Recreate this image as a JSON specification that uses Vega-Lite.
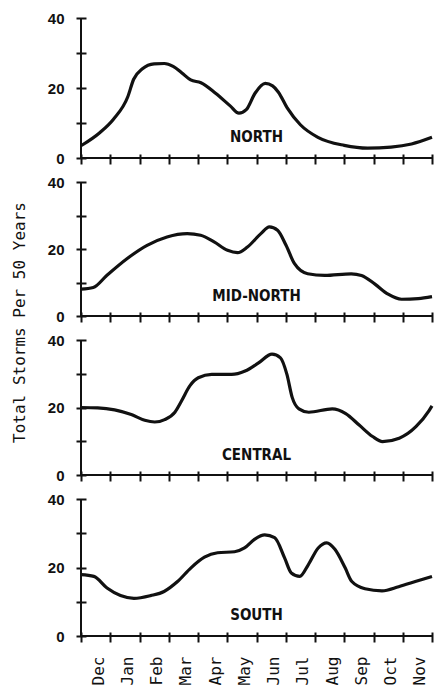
{
  "$schema": "https://vega.github.io/schema/vega-lite/v6.json",
  "padding": {"left": 11, "top": 11, "right": 3, "bottom": 0},
  "background": "white",
  "config": {
    "view": {"stroke": null},
    "axis": {"grid": false, "domain": false, "tickColor": "#111", "tickWidth": 2, "labelColor": "#111", "titleColor": "#111", "labelOverlap": false, "labelFlush": false},
    "text": {"font": "'Liberation Sans Narrow', 'DejaVu Sans Condensed', 'Roboto Condensed', Roboto, sans-serif", "fontWeight": "bold", "fontSize": 15, "color": "#111"}
  },
  "datasets": {
    "storms": [
      {"region": "NORTH", "month": 0, "storms": 3.5},
      {"region": "NORTH", "month": 0.65, "storms": 7.3},
      {"region": "NORTH", "month": 1.11, "storms": 11.1},
      {"region": "NORTH", "month": 1.6, "storms": 17.5},
      {"region": "NORTH", "month": 1.8, "storms": 22.5},
      {"region": "NORTH", "month": 2.1, "storms": 25.5},
      {"region": "NORTH", "month": 2.5, "storms": 26.9},
      {"region": "NORTH", "month": 2.85, "storms": 27.0},
      {"region": "NORTH", "month": 3.15, "storms": 26.2},
      {"region": "NORTH", "month": 3.45, "storms": 24.3},
      {"region": "NORTH", "month": 3.75, "storms": 22.3},
      {"region": "NORTH", "month": 4.1, "storms": 21.5},
      {"region": "NORTH", "month": 4.6, "storms": 18.5},
      {"region": "NORTH", "month": 5.1, "storms": 14.9},
      {"region": "NORTH", "month": 5.4, "storms": 12.8},
      {"region": "NORTH", "month": 5.65, "storms": 13.8},
      {"region": "NORTH", "month": 5.95, "storms": 18.5},
      {"region": "NORTH", "month": 6.3, "storms": 21.3},
      {"region": "NORTH", "month": 6.55, "storms": 20.6},
      {"region": "NORTH", "month": 6.75, "storms": 18.8},
      {"region": "NORTH", "month": 7.05, "storms": 14.3},
      {"region": "NORTH", "month": 7.5, "storms": 9.5},
      {"region": "NORTH", "month": 8.1, "storms": 5.9},
      {"region": "NORTH", "month": 9.0, "storms": 3.6},
      {"region": "NORTH", "month": 9.8, "storms": 2.8},
      {"region": "NORTH", "month": 10.6, "storms": 3.1},
      {"region": "NORTH", "month": 11.3, "storms": 4.0},
      {"region": "NORTH", "month": 12, "storms": 5.9},

      {"region": "MID-NORTH", "month": 0, "storms": 8.0},
      {"region": "MID-NORTH", "month": 0.42, "storms": 8.5},
      {"region": "MID-NORTH", "month": 0.88, "storms": 12.1},
      {"region": "MID-NORTH", "month": 1.57, "storms": 17.1},
      {"region": "MID-NORTH", "month": 2.26, "storms": 21.1},
      {"region": "MID-NORTH", "month": 2.94, "storms": 23.6},
      {"region": "MID-NORTH", "month": 3.63, "storms": 24.6},
      {"region": "MID-NORTH", "month": 4.09, "storms": 24.1},
      {"region": "MID-NORTH", "month": 4.55, "storms": 22.1},
      {"region": "MID-NORTH", "month": 5.01, "storms": 19.6},
      {"region": "MID-NORTH", "month": 5.35, "storms": 18.9},
      {"region": "MID-NORTH", "month": 5.69, "storms": 20.6},
      {"region": "MID-NORTH", "month": 6.15, "storms": 24.6},
      {"region": "MID-NORTH", "month": 6.44, "storms": 26.6},
      {"region": "MID-NORTH", "month": 6.72, "storms": 25.6},
      {"region": "MID-NORTH", "month": 7.01, "storms": 21.1},
      {"region": "MID-NORTH", "month": 7.3, "storms": 15.6},
      {"region": "MID-NORTH", "month": 7.75, "storms": 12.6},
      {"region": "MID-NORTH", "month": 8.33, "storms": 12.1},
      {"region": "MID-NORTH", "month": 9.24, "storms": 12.6},
      {"region": "MID-NORTH", "month": 9.59, "storms": 12.1},
      {"region": "MID-NORTH", "month": 10.05, "storms": 9.5},
      {"region": "MID-NORTH", "month": 10.5, "storms": 6.5},
      {"region": "MID-NORTH", "month": 10.96, "storms": 5.0},
      {"region": "MID-NORTH", "month": 11.53, "storms": 5.2},
      {"region": "MID-NORTH", "month": 12, "storms": 5.8},

      {"region": "CENTRAL", "month": 0, "storms": 20.0},
      {"region": "CENTRAL", "month": 0.57, "storms": 19.9},
      {"region": "CENTRAL", "month": 1.15, "storms": 19.3},
      {"region": "CENTRAL", "month": 1.72, "storms": 17.9},
      {"region": "CENTRAL", "month": 2.18, "storms": 16.2},
      {"region": "CENTRAL", "month": 2.52, "storms": 15.7},
      {"region": "CENTRAL", "month": 2.86, "storms": 16.4},
      {"region": "CENTRAL", "month": 3.21, "storms": 18.6},
      {"region": "CENTRAL", "month": 3.44, "storms": 22.0},
      {"region": "CENTRAL", "month": 3.72, "storms": 26.4},
      {"region": "CENTRAL", "month": 4.01, "storms": 28.8},
      {"region": "CENTRAL", "month": 4.47, "storms": 29.8},
      {"region": "CENTRAL", "month": 5.15, "storms": 29.8},
      {"region": "CENTRAL", "month": 5.61, "storms": 30.8},
      {"region": "CENTRAL", "month": 6.07, "storms": 33.2},
      {"region": "CENTRAL", "month": 6.53, "storms": 35.8},
      {"region": "CENTRAL", "month": 6.82, "storms": 34.7},
      {"region": "CENTRAL", "month": 7.04, "storms": 29.8},
      {"region": "CENTRAL", "month": 7.22, "storms": 23.0},
      {"region": "CENTRAL", "month": 7.45, "storms": 19.6},
      {"region": "CENTRAL", "month": 7.79, "storms": 18.6},
      {"region": "CENTRAL", "month": 8.59, "storms": 19.6},
      {"region": "CENTRAL", "month": 9.05, "storms": 18.2},
      {"region": "CENTRAL", "month": 9.51, "storms": 14.8},
      {"region": "CENTRAL", "month": 9.97, "storms": 11.4},
      {"region": "CENTRAL", "month": 10.31, "storms": 9.9},
      {"region": "CENTRAL", "month": 10.88, "storms": 10.9},
      {"region": "CENTRAL", "month": 11.45, "storms": 14.3},
      {"region": "CENTRAL", "month": 11.9, "storms": 19.1},
      {"region": "CENTRAL", "month": 12, "storms": 20.5},

      {"region": "SOUTH", "month": 0, "storms": 17.9},
      {"region": "SOUTH", "month": 0.44, "storms": 17.4},
      {"region": "SOUTH", "month": 0.89, "storms": 14.0},
      {"region": "SOUTH", "month": 1.35, "storms": 11.8},
      {"region": "SOUTH", "month": 1.81, "storms": 11.0},
      {"region": "SOUTH", "month": 2.38, "storms": 11.8},
      {"region": "SOUTH", "month": 2.84, "storms": 13.0},
      {"region": "SOUTH", "month": 3.3, "storms": 15.9},
      {"region": "SOUTH", "month": 3.76, "storms": 19.9},
      {"region": "SOUTH", "month": 4.22, "storms": 23.0},
      {"region": "SOUTH", "month": 4.67, "storms": 24.3},
      {"region": "SOUTH", "month": 5.25, "storms": 24.6},
      {"region": "SOUTH", "month": 5.59, "storms": 25.7},
      {"region": "SOUTH", "month": 5.93, "storms": 28.2},
      {"region": "SOUTH", "month": 6.28, "storms": 29.5},
      {"region": "SOUTH", "month": 6.62, "storms": 28.7},
      {"region": "SOUTH", "month": 6.96, "storms": 22.8},
      {"region": "SOUTH", "month": 7.19, "storms": 18.4},
      {"region": "SOUTH", "month": 7.48, "storms": 17.4},
      {"region": "SOUTH", "month": 7.77, "storms": 20.8},
      {"region": "SOUTH", "month": 8.11, "storms": 25.7},
      {"region": "SOUTH", "month": 8.4, "storms": 27.2},
      {"region": "SOUTH", "month": 8.68, "storms": 25.3},
      {"region": "SOUTH", "month": 9.03, "storms": 19.9},
      {"region": "SOUTH", "month": 9.26, "storms": 15.9},
      {"region": "SOUTH", "month": 9.71, "storms": 13.8},
      {"region": "SOUTH", "month": 10.29, "storms": 13.2},
      {"region": "SOUTH", "month": 10.86, "storms": 14.4},
      {"region": "SOUTH", "month": 11.43, "storms": 15.9},
      {"region": "SOUTH", "month": 12, "storms": 17.4}
    ]
  },
  "bounds": "flush",
  "spacing": 24,
  "vconcat": [
    {
      "width": 351, "height": 140,
      "layer": [
        {
          "data": {"name": "storms"},
          "transform": [{"filter": "datum.region == 'NORTH'"}],
          "mark": {"type": "line", "interpolate": "monotone", "color": "#111", "strokeWidth": 3.2},
          "encoding": {
            "x": {"field": "month", "type": "quantitative", "scale": {"domain": [0, 12], "nice": false}, "axis": {"values": [0,1,2,3,4,5,6,7,8,9,10,11,12], "tickCount": 13, "offset": -4, "tickSize": 10, "labels": false, "title": null}},
            "y": {"field": "storms", "type": "quantitative", "scale": {"domain": [0, 40]}, "axis": {"values": [0,10,20,30,40], "tickCount": 5, "offset": -5, "tickSize": 10, "labelPadding": 12, "labelExpr": "datum.value % 20 == 0 ? datum.label : ''", "labelFont": "Liberation Sans", "labelFontWeight": "bold", "labelFontSize": 15, "title": null}}
          }
        },
        {"data": {"values": [{}]}, "mark": {"type": "rule", "color": "#111", "strokeWidth": 2}, "encoding": {"y": {"datum": 0, "type": "quantitative"}}},
        {"data": {"values": [{}]}, "mark": {"type": "rule", "color": "#111", "strokeWidth": 2}, "encoding": {"x": {"datum": 0, "type": "quantitative"}}},
        {"data": {"values": [{}]}, "mark": {"type": "text", "text": "NORTH"}, "encoding": {"x": {"datum": 6, "type": "quantitative"}, "y": {"datum": 6, "type": "quantitative"}}}
      ]
    },
    {
      "width": 351, "height": 134,
      "layer": [
        {
          "data": {"name": "storms"},
          "transform": [{"filter": "datum.region == 'MID-NORTH'"}],
          "mark": {"type": "line", "interpolate": "monotone", "color": "#111", "strokeWidth": 3.2},
          "encoding": {
            "x": {"field": "month", "type": "quantitative", "scale": {"domain": [0, 12], "nice": false}, "axis": {"values": [0,1,2,3,4,5,6,7,8,9,10,11,12], "tickCount": 13, "offset": -4, "tickSize": 10, "labels": false, "title": null}},
            "y": {"field": "storms", "type": "quantitative", "scale": {"domain": [0, 40]}, "axis": {"values": [0,10,20,30,40], "tickCount": 5, "offset": -5, "tickSize": 10, "labelPadding": 12, "labelExpr": "datum.value % 20 == 0 ? datum.label : ''", "labelFont": "Liberation Sans", "labelFontWeight": "bold", "labelFontSize": 15, "title": "Total Storms Per 50 Years", "titleFont": "DejaVu Sans Mono", "titleFontSize": 16, "titleFontWeight": "normal", "titleAngle": -90, "titleAlign": "center", "titleBaseline": "middle", "titleX": -67, "titleY": 140}}
          }
        },
        {"data": {"values": [{}]}, "mark": {"type": "rule", "color": "#111", "strokeWidth": 2}, "encoding": {"y": {"datum": 0, "type": "quantitative"}}},
        {"data": {"values": [{}]}, "mark": {"type": "rule", "color": "#111", "strokeWidth": 2}, "encoding": {"x": {"datum": 0, "type": "quantitative"}}},
        {"data": {"values": [{}]}, "mark": {"type": "text", "text": "MID-NORTH"}, "encoding": {"x": {"datum": 6, "type": "quantitative"}, "y": {"datum": 6, "type": "quantitative"}}}
      ]
    },
    {
      "width": 351, "height": 135,
      "layer": [
        {
          "data": {"name": "storms"},
          "transform": [{"filter": "datum.region == 'CENTRAL'"}],
          "mark": {"type": "line", "interpolate": "monotone", "color": "#111", "strokeWidth": 3.2},
          "encoding": {
            "x": {"field": "month", "type": "quantitative", "scale": {"domain": [0, 12], "nice": false}, "axis": {"values": [0,1,2,3,4,5,6,7,8,9,10,11,12], "tickCount": 13, "offset": -4, "tickSize": 10, "labels": false, "title": null}},
            "y": {"field": "storms", "type": "quantitative", "scale": {"domain": [0, 40]}, "axis": {"values": [0,10,20,30,40], "tickCount": 5, "offset": -5, "tickSize": 10, "labelPadding": 12, "labelExpr": "datum.value % 20 == 0 ? datum.label : ''", "labelFont": "Liberation Sans", "labelFontWeight": "bold", "labelFontSize": 15, "title": null}}
          }
        },
        {"data": {"values": [{}]}, "mark": {"type": "rule", "color": "#111", "strokeWidth": 2}, "encoding": {"y": {"datum": 0, "type": "quantitative"}}},
        {"data": {"values": [{}]}, "mark": {"type": "rule", "color": "#111", "strokeWidth": 2}, "encoding": {"x": {"datum": 0, "type": "quantitative"}}},
        {"data": {"values": [{}]}, "mark": {"type": "text", "text": "CENTRAL"}, "encoding": {"x": {"datum": 6, "type": "quantitative"}, "y": {"datum": 6, "type": "quantitative"}}}
      ]
    },
    {
      "width": 351, "height": 137,
      "layer": [
        {
          "data": {"name": "storms"},
          "transform": [{"filter": "datum.region == 'SOUTH'"}],
          "mark": {"type": "line", "interpolate": "monotone", "color": "#111", "strokeWidth": 3.2},
          "encoding": {
            "x": {"field": "month", "type": "quantitative", "scale": {"domain": [0, 12], "nice": false}, "axis": {"values": [0,1,2,3,4,5,6,7,8,9,10,11,12], "tickCount": 13, "offset": -4, "tickSize": 10, "labelPadding": 14, "labelAngle": -90, "labelOffset": 17, "labelFont": "DejaVu Sans Mono", "labelFontSize": 16, "labelExpr": "['Dec','Jan','Feb','Mar','Apr','May','Jun','Jul','Aug','Sep','Oct','Nov',''][datum.value]", "title": null}},
            "y": {"field": "storms", "type": "quantitative", "scale": {"domain": [0, 40]}, "axis": {"values": [0,10,20,30,40], "tickCount": 5, "offset": -5, "tickSize": 10, "labelPadding": 12, "labelExpr": "datum.value % 20 == 0 ? datum.label : ''", "labelFont": "Liberation Sans", "labelFontWeight": "bold", "labelFontSize": 15, "title": null}}
          }
        },
        {"data": {"values": [{}]}, "mark": {"type": "rule", "color": "#111", "strokeWidth": 2}, "encoding": {"y": {"datum": 0, "type": "quantitative"}}},
        {"data": {"values": [{}]}, "mark": {"type": "rule", "color": "#111", "strokeWidth": 2}, "encoding": {"x": {"datum": 0, "type": "quantitative"}}},
        {"data": {"values": [{}]}, "mark": {"type": "text", "text": "SOUTH"}, "encoding": {"x": {"datum": 6, "type": "quantitative"}, "y": {"datum": 6, "type": "quantitative"}}}
      ]
    }
  ]
}
